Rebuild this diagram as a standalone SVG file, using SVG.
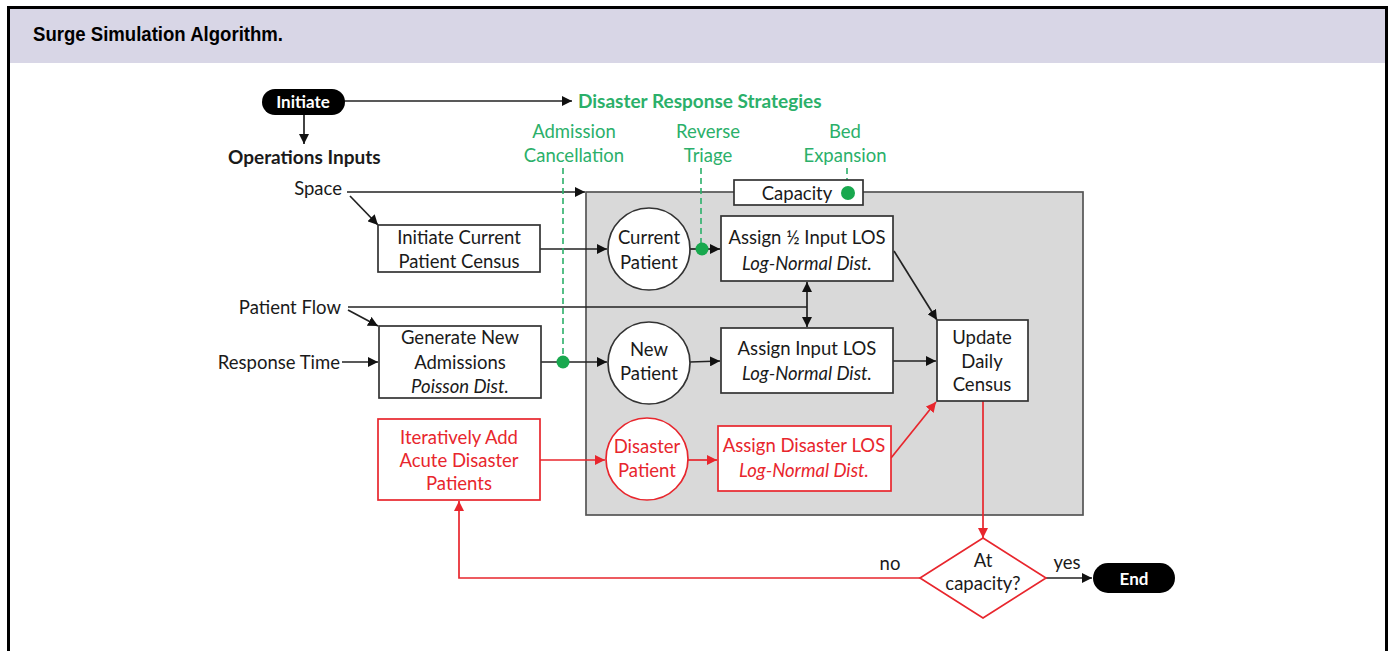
<svg xmlns="http://www.w3.org/2000/svg" width="1393" height="651" viewBox="0 0 1393 651">
<style>
text{font-family:Lato,"Open Sans","Liberation Sans",sans-serif;font-size:18.5px;fill:#1a1a1a}
.c{text-anchor:middle}
.e{text-anchor:end}
.i{font-style:italic}
.b{font-weight:bold;font-size:19px}
.g{fill:#2bb06a}
.r{fill:#e8262d}
.w{fill:#fff;font-weight:bold;font-size:17px}
.box{fill:#fff;stroke:#333;stroke-width:1.7}
.rbox{fill:#fff;stroke:#e8262d;stroke-width:1.7}
.ln{fill:none;stroke:#222;stroke-width:1.7}
.rl{fill:none;stroke:#e8262d;stroke-width:1.7}
.gd{fill:none;stroke:#2bb06a;stroke-width:1.6;stroke-dasharray:6 4}
.dot{fill:#18a84e}
</style>
<defs>
<marker id="ab" viewBox="0 0 10 10" refX="10" refY="5" markerWidth="10" markerHeight="10" markerUnits="userSpaceOnUse" orient="auto-start-reverse"><path d="M0,0L10,5L0,10z" fill="#111"/></marker>
<marker id="ar" viewBox="0 0 10 10" refX="10" refY="5" markerWidth="10" markerHeight="10" markerUnits="userSpaceOnUse" orient="auto"><path d="M0,0L10,5L0,10z" fill="#e8262d"/></marker>
</defs>
<rect x="0" y="0" width="1393" height="651" fill="#fff"/>
<g id="frame">
<rect x="9" y="8" width="1377" height="55" fill="#d8d6e6"/>
<path d="M8.5,651V7.5H1386.5V651" fill="none" stroke="#000" stroke-width="3"/>
<text x="33" y="41" style="font-family:'Liberation Sans',sans-serif;font-size:21px;font-weight:bold;fill:#000" textLength="250" lengthAdjust="spacingAndGlyphs">Surge Simulation Algorithm.</text>
</g>
<g id="sim-area"><rect x="586" y="192" width="497" height="323" fill="#d9d9d9" stroke="#555" stroke-width="1.7"/></g>
<g id="connectors">
<line class="ln" x1="344" y1="101" x2="572" y2="101" marker-end="url(#ab)"/>
<line class="ln" x1="304" y1="115" x2="304" y2="144" marker-end="url(#ab)"/>
<line class="ln" x1="347" y1="192" x2="585" y2="192" marker-end="url(#ab)"/>
<line class="ln" x1="350" y1="196" x2="378" y2="225" marker-end="url(#ab)"/>
<line class="ln" x1="540" y1="249" x2="607" y2="249" marker-end="url(#ab)"/>
<line class="ln" x1="690" y1="249" x2="720" y2="249" marker-end="url(#ab)"/>
<line class="ln" x1="348" y1="307" x2="807" y2="307"/>
<line class="ln" x1="807" y1="282" x2="807" y2="327" marker-start="url(#ab)" marker-end="url(#ab)"/>
<line class="ln" x1="348" y1="310" x2="378" y2="326" marker-end="url(#ab)"/>
<line class="ln" x1="342" y1="362" x2="378" y2="362" marker-end="url(#ab)"/>
<line class="ln" x1="541" y1="362" x2="607" y2="362" marker-end="url(#ab)"/>
<line class="ln" x1="690" y1="362" x2="720" y2="361" marker-end="url(#ab)"/>
<line class="ln" x1="893" y1="361" x2="936" y2="361" marker-end="url(#ab)"/>
<line class="ln" x1="894" y1="251" x2="937" y2="320" marker-end="url(#ab)"/>
<line class="ln" x1="1046" y1="578" x2="1092" y2="578" marker-end="url(#ab)"/>
<line class="rl" x1="540" y1="460" x2="605" y2="460" marker-end="url(#ar)"/>
<line class="rl" x1="688" y1="460" x2="717" y2="460" marker-end="url(#ar)"/>
<line class="rl" x1="891" y1="458" x2="936" y2="402" marker-end="url(#ar)"/>
<line class="rl" x1="983" y1="401" x2="983" y2="538" marker-end="url(#ar)"/>
<path class="rl" d="M920,578H459V501" marker-end="url(#ar)"/>
<line class="gd" x1="563" y1="168" x2="563" y2="362"/>
<line class="gd" x1="701" y1="168" x2="701" y2="249"/>
<line class="gd" x1="847" y1="168" x2="847" y2="192"/>
<circle class="dot" cx="563" cy="362" r="6.5"/>
<circle class="dot" cx="702" cy="249" r="6.5"/>
</g>
<g id="initiate"><rect x="262" y="89" width="83" height="26" rx="13" fill="#000"/><text x="303" y="108" class="c w">Initiate</text></g>
<g id="strategies"><text x="578" y="108" class="b g">Disaster Response Strategies</text></g>
<g id="ops-inputs"><text x="228" y="164" class="b">Operations Inputs</text></g>
<g id="admission-cancellation"><text x="574" y="138" class="c g">Admission</text><text x="574" y="162" class="c g">Cancellation</text></g>
<g id="reverse-triage"><text x="708" y="138" class="c g">Reverse</text><text x="708" y="162" class="c g">Triage</text></g>
<g id="bed-expansion"><text x="845" y="138" class="c g">Bed</text><text x="845" y="162" class="c g">Expansion</text></g>
<g id="space"><text x="342" y="195" class="e">Space</text></g>
<g id="patient-flow"><text x="341" y="313.5" class="e">Patient Flow</text></g>
<g id="response-time"><text x="340" y="368.5" class="e">Response Time</text></g>
<g id="capacity"><rect class="box" x="734" y="180" width="129" height="25"/><text x="797" y="199.5" class="c">Capacity</text><circle class="dot" cx="848" cy="193" r="7"/></g>
<g id="init-census"><rect class="box" x="378" y="225" width="162" height="47"/><text x="459" y="243.5" class="c">Initiate Current</text><text x="459" y="268" class="c">Patient Census</text></g>
<g id="gen-admissions"><rect class="box" x="379" y="326" width="162" height="72"/><text x="460" y="343.5" class="c">Generate New</text><text x="460" y="368.5" class="c">Admissions</text><text x="460" y="393" class="c i">Poisson Dist.</text></g>
<g id="current-patient"><circle class="box" cx="649" cy="249" r="41"/><text x="649" y="243.5" class="c">Current</text><text x="649" y="268.5" class="c">Patient</text></g>
<g id="new-patient"><circle class="box" cx="649" cy="363" r="41"/><text x="649" y="355.5" class="c">New</text><text x="649" y="380" class="c">Patient</text></g>
<g id="assign-half"><rect class="box" x="721" y="216" width="172" height="65"/><text x="807" y="243.5" class="c">Assign ½ Input LOS</text><text x="807" y="269.5" class="c i">Log-Normal Dist.</text></g>
<g id="assign-input"><rect class="box" x="721" y="328" width="172" height="65"/><text x="807" y="354.5" class="c">Assign Input LOS</text><text x="807" y="380" class="c i">Log-Normal Dist.</text></g>
<g id="update-census"><rect class="box" x="937" y="320" width="91" height="81"/><text x="982" y="343.5" class="c">Update</text><text x="982" y="367.5" class="c">Daily</text><text x="982" y="390.5" class="c">Census</text></g>
<g id="add-disaster"><rect class="rbox" x="378" y="419" width="162" height="81"/><text x="459" y="443.5" class="c r">Iteratively Add</text><text x="459" y="466.5" class="c r">Acute Disaster</text><text x="459" y="489.5" class="c r">Patients</text></g>
<g id="disaster-patient"><circle class="rbox" cx="647" cy="459" r="41"/><text x="647" y="453" class="c r">Disaster</text><text x="647" y="476.5" class="c r">Patient</text></g>
<g id="assign-disaster"><rect class="rbox" x="718" y="426" width="173" height="65"/><text x="804" y="452" class="c r">Assign Disaster LOS</text><text x="804" y="476.5" class="c r i">Log-Normal Dist.</text></g>
<g id="at-capacity"><path d="M983,538L1046,578L983,618L920,578z" fill="#fff" stroke="#e8262d" stroke-width="1.7"/><text x="983" y="566.5" class="c">At</text><text x="983" y="589.5" class="c">capacity?</text></g>
<g id="no-label"><text x="890" y="570" class="c">no</text></g>
<g id="yes-label"><text x="1067" y="569" class="c">yes</text></g>
<g id="end"><rect x="1093" y="563" width="82" height="30" rx="15" fill="#000"/><text x="1134" y="584.5" class="c w">End</text></g>
</svg>
